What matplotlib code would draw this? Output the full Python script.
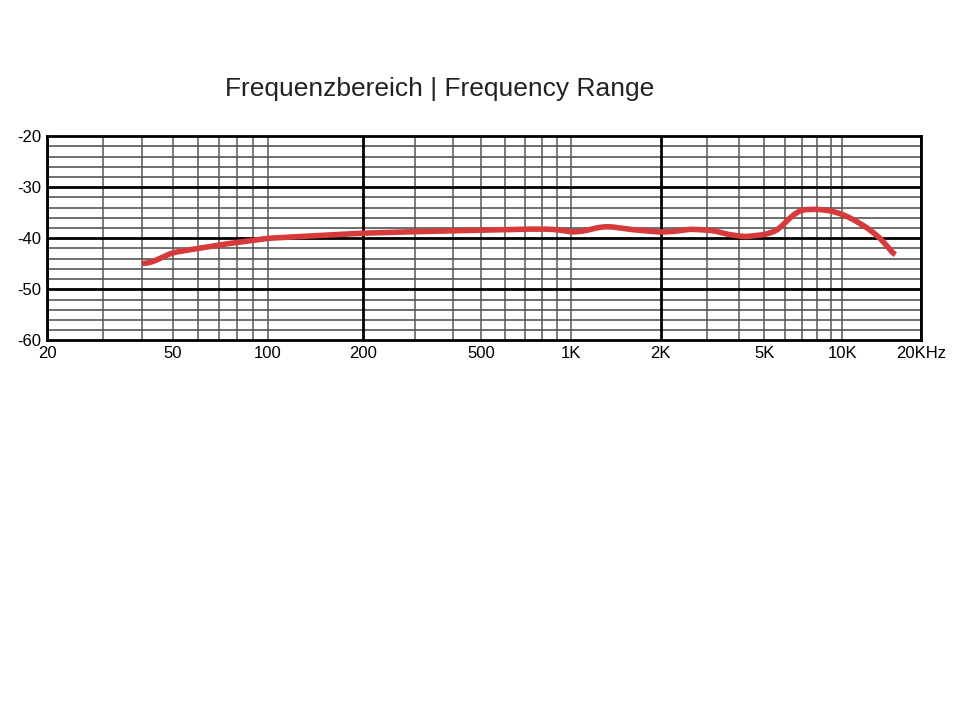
import matplotlib
matplotlib.use("Agg")
import matplotlib.pyplot as plt
import numpy as np

freq = [40, 43, 46, 50, 60, 70, 100, 150, 200, 300, 500, 700, 850, 950, 1000, 1100, 1250, 1350, 1600, 2000, 2300, 2600, 3200, 3600, 4200, 5000, 5600, 6000, 6500, 7000, 8000, 9000, 10000, 11000, 12500, 14000, 16000]
level = [-45, -44.7, -43.8, -42.8, -42.0, -41.3, -40.0, -39.4, -39.0, -38.7, -38.4, -38.2, -38.2, -38.5, -38.8, -38.6, -37.8, -37.7, -38.3, -38.8, -38.6, -38.2, -38.5, -39.2, -39.7, -39.3, -38.5, -37.0, -35.3, -34.4, -34.3, -34.6, -35.3, -36.3, -38.0, -40.0, -43.5]
xticks = [20, 50, 100, 200, 500, 1000, 2000, 5000, 10000, 20000]
xlabels = ["20", "50", "100", "200", "500", "1K", "2K", "5K", "10K", "20KHz"]
yticks = [-20, -30, -40, -50, -60]
ylabels = ["-20", "-30", "-40", "-50", "-60"]

# piecewise log mapping (decade widths)
_lx = np.log10([20, 200, 2000, 20000])
_px = np.array([0, 316, 614, 874], dtype=float)
def fwd(x):
    return np.interp(np.log10(np.clip(x, 1e-9, None)), _lx, _px, left=np.nan, right=np.nan) if False else np.interp(np.log10(np.clip(x, 1e-9, None)), _lx, _px)
def inv(p):
    return 10 ** np.interp(p, _px, _lx)

fig = plt.figure(figsize=(9.6, 7.21), dpi=100)
ax = fig.add_axes([0.049, 0.528, 0.910, 0.283])
ax.set_xscale("function", functions=(fwd, inv))
ax.set_xlim(20, 20000)
ax.set_ylim(-60, -20)

for base in [10, 100, 1000]:
    for m in range(3, 11):
        ax.axvline(base * m, color="#666666", lw=1.2, zorder=1)
for f in [20, 200, 2000, 20000]:
    ax.axvline(f, color="black", lw=2, zorder=2)
for y in range(-58, -20, 2):
    if y % 10 == 0:
        ax.axhline(y, color="black", lw=2, zorder=2)
    else:
        ax.axhline(y, color="#555555", lw=1.2, zorder=1)

# smooth in log-frequency space
lf = np.log10(freq)
fine = np.linspace(lf[0], lf[-1], 600)
curve = np.interp(fine, lf, level)
k = 9
pad = np.pad(curve, k // 2, mode="edge")
curve = np.convolve(pad, np.ones(k) / k, mode="valid")
ax.plot(10 ** fine, curve, color="#d63a3a", lw=4, zorder=5, solid_capstyle="butt")

ax.set_xticks(xticks)
ax.set_xticklabels(xlabels)
ax.xaxis.set_minor_locator(matplotlib.ticker.NullLocator())
ax.set_yticks(yticks)
ax.set_yticklabels(ylabels)
ax.tick_params(length=0, labelsize=12, pad=4)
for lab in ax.get_xticklabels() + ax.get_yticklabels():
    lab.set_fontfamily("Liberation Sans")
for s in ax.spines.values():
    s.set_linewidth(2)

fig.text(0.458, 0.876, "Frequenzbereich | Frequency Range", ha="center", va="center",
         fontsize=19, fontfamily="Liberation Sans", color="#222222")
fig.savefig("out.png", dpi=100)
